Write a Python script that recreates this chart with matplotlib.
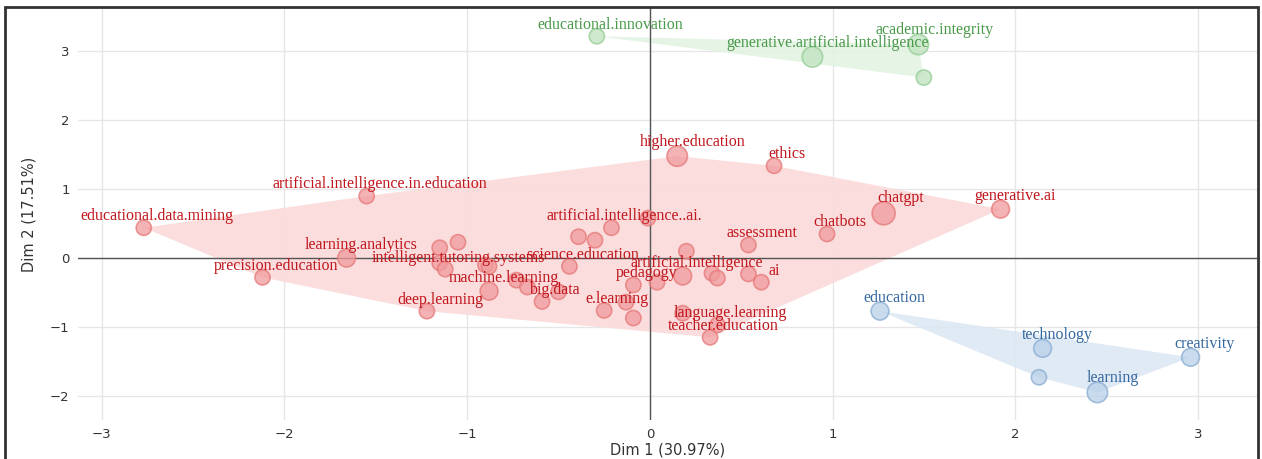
import numpy as np
import matplotlib
matplotlib.use("Agg")
import matplotlib.pyplot as plt
from matplotlib.patches import Polygon, Rectangle

# === Datos: coordenadas de las palabras en el plano factorial ===
grupo1_nombres = [
    "educational.data.mining", "precision.education", "learning.analytics", "deep.learning",
    "artificial.intelligence.in.education", "", "", "", "intelligent.tutoring.systems", "", "",
    "machine.learning", "", "", "", "big.data", "science.education", "", "",
    "artificial.intelligence..ai.", "", "e.learning", "", "pedagogy", "", "", "assessment", "",
    "artificial.intelligence", "", "", "", "ai", "", "language.learning", "teacher.education",
    "higher.education", "ethics", "chatgpt", "generative.ai", "chatbots",
]
grupo1_x = [-2.77, -2.12, -1.66, -1.22, -1.55, -1.15, -1.05, -1.15, -1.12, -0.90, -0.88,
            -0.88, -0.73, -0.67, -0.50, -0.59, -0.44, -0.39, -0.30, -0.21, -0.01, -0.25,
            -0.13, -0.09, -0.09, 0.20, 0.54, 0.04, 0.18, 0.34, 0.37, 0.54, 0.61, 0.18,
            0.37, 0.33, 0.15, 0.68, 1.28, 1.92, 0.97]
grupo1_y = [0.44, -0.28, 0.00, -0.77, 0.90, 0.15, 0.23, -0.07, -0.16, -0.10, -0.12,
            -0.48, -0.32, -0.42, -0.49, -0.63, -0.12, 0.31, 0.26, 0.44, 0.58, -0.76,
            -0.64, -0.39, -0.87, 0.10, 0.19, -0.35, -0.26, -0.22, -0.29, -0.23, -0.35,
            -0.80, -0.97, -1.15, 1.48, 1.34, 0.65, 0.71, 0.35]
grupo1_peso = [2, 2, 3, 2, 2, 2, 2, 2, 2, 2, 2,
               3, 2, 2, 2, 2, 2, 2, 2, 2, 2, 2,
               2, 2, 2, 2, 2, 2, 3, 2, 2, 2, 2, 2,
               2, 2, 4, 2, 5, 3, 2]

grupo2_nombres = ["educational.innovation", "generative.artificial.intelligence",
                  "academic.integrity", ""]
grupo2_x = [-0.29, 0.89, 1.47, 1.50]
grupo2_y = [3.22, 2.92, 3.10, 2.62]
grupo2_peso = [2, 4, 4, 2]

grupo3_nombres = ["education", "technology", "creativity", "", "learning"]
grupo3_x = [1.26, 2.15, 2.96, 2.13, 2.45]
grupo3_y = [-0.77, -1.31, -1.44, -1.73, -1.95]
grupo3_peso = [3, 3, 3, 2, 4]

eje_x = "Dim 1 (30.97%)"
eje_y = "Dim 2 (17.51%)"

estilos = [
    # texto, relleno punto, borde punto, relleno poligono
    ("#c0161d", "#f19a9c", "#e57878", "#fbdada"),
    ("#4a9a4a", "#bfe2bf", "#93cc93", "#e3f3e3"),
    ("#3568a0", "#b9d0e8", "#88acd2", "#dde8f3"),
]


# === Envolvente convexa (cadena monotona) ===
def envolvente(xs, ys):
    pts = sorted(set(zip(xs, ys)))
    if len(pts) < 3:
        return pts

    def cruz(o, a, b):
        return (a[0] - o[0]) * (b[1] - o[1]) - (a[1] - o[1]) * (b[0] - o[0])

    inf, sup = [], []
    for p in pts:
        while len(inf) >= 2 and cruz(inf[-2], inf[-1], p) <= 0:
            inf.pop()
        inf.append(p)
    for p in reversed(pts):
        while len(sup) >= 2 and cruz(sup[-2], sup[-1], p) <= 0:
            sup.pop()
        sup.append(p)
    return inf[:-1] + sup[:-1]


def radio_px(peso):
    return 5.0 + 1.3 * peso


# === Dibujar un grupo ===
def dibujar_grupo(ax, nombres, xs, ys, pesos, estilo):
    c_txt, c_fill, c_edge, c_poly = estilo
    ax.add_patch(Polygon(envolvente(xs, ys), closed=True, facecolor=c_poly,
                         edgecolor="none", alpha=0.9, zorder=1))
    r = np.array([radio_px(p) for p in pesos])
    s = (2 * r * 0.72) ** 2
    ax.scatter(xs, ys, s=s, facecolor=c_fill, edgecolor=c_edge, linewidth=1.2,
               alpha=0.75, zorder=3)
    for nombre, x, y, rr in zip(nombres, xs, ys, r):
        if not nombre:
            continue
        ax.annotate(nombre, (x, y), xytext=((rr + 5.5) * 0.72, (rr + 4) * 0.72),
                    textcoords="offset points", ha="center", va="center",
                    fontsize=11.5, family="Liberation Serif", color=c_txt, zorder=4)


if __name__ == "__main__":
    fig = plt.figure(figsize=(12.62, 4.59), dpi=100)
    ax = fig.add_axes([78 / 1262, 1 - 420 / 459, (1260 - 78) / 1262, (420 - 8) / 459])

    ax.set_xlim(-3.13, 3.34)
    ax.set_ylim(-2.35, 3.63)
    ax.set_xticks([-3, -2, -1, 0, 1, 2, 3])
    ax.set_yticks([-2, -1, 0, 1, 2, 3])
    ax.set_xticklabels(["\u22123", "\u22122", "\u22121", "0", "1", "2", "3"])
    ax.set_yticklabels(["\u22122", "\u22121", "0", "1", "2", "3"])
    ax.grid(True, color="#e6e6e6", linewidth=1, zorder=0)
    ax.set_axisbelow(True)
    for lado in ax.spines.values():
        lado.set_visible(False)
    ax.tick_params(length=0, labelsize=9.5, colors="#333333", pad=6)
    ax.axhline(0, color="#555555", linewidth=1, zorder=2)
    ax.axvline(0, color="#555555", linewidth=1, zorder=2)

    dibujar_grupo(ax, grupo1_nombres, grupo1_x, grupo1_y, grupo1_peso, estilos[0])
    dibujar_grupo(ax, grupo2_nombres, grupo2_x, grupo2_y, grupo2_peso, estilos[1])
    dibujar_grupo(ax, grupo3_nombres, grupo3_x, grupo3_y, grupo3_peso, estilos[2])

    ax.set_xlabel(eje_x, fontsize=10.5, color="#333333")
    ax.set_ylabel(eje_y, fontsize=10.5, color="#333333", labelpad=10)
    ax.xaxis.set_label_coords((668 - 78) / (1260 - 78), -0.055)

    # marco oscuro alrededor de la imagen
    fig.patches.append(Rectangle((5 / 1262, -0.05), (1258 - 5) / 1262, 1.05 - 7 / 459,
                                 transform=fig.transFigure, fill=False,
                                 edgecolor="#333333", linewidth=2))

    fig.savefig("out.png", dpi=100)
